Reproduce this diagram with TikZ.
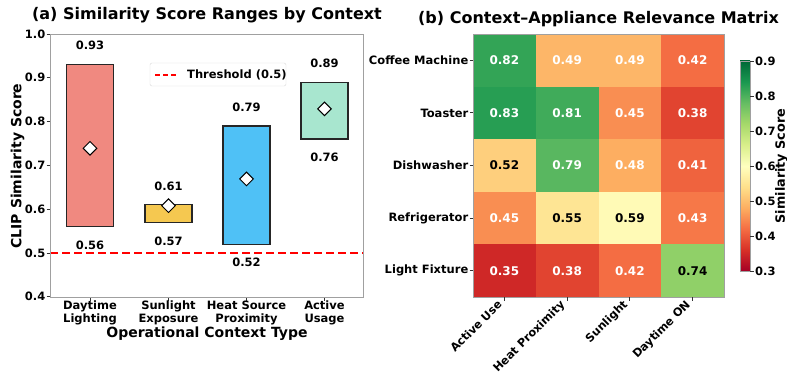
\documentclass[tikz,border=0pt]{standalone}
\usepackage{fontspec}
\setmainfont{DejaVu Sans}
\usetikzlibrary{shapes.geometric}
\definecolor{cday}{RGB}{240,137,128}
\definecolor{csun}{RGB}{245,200,80}
\definecolor{cheat}{RGB}{79,193,246}
\definecolor{cact}{RGB}{168,230,207}
\definecolor{spine}{RGB}{160,160,160}
\definecolor{h82}{RGB}{51,164,86}
\definecolor{h49}{RGB}{253,182,104}
\definecolor{h42}{RGB}{244,109,67}
\definecolor{h83}{RGB}{39,158,83}
\definecolor{h81}{RGB}{64,171,90}
\definecolor{h45}{RGB}{249,142,82}
\definecolor{h38}{RGB}{225,68,48}
\definecolor{h52}{RGB}{254,207,125}
\definecolor{h79}{RGB}{89,183,96}
\definecolor{h48}{RGB}{253,174,97}
\definecolor{h41}{RGB}{239,99,62}
\definecolor{h55}{RGB}{254,229,148}
\definecolor{h59}{RGB}{255,250,182}
\definecolor{h43}{RGB}{246,120,72}
\definecolor{h35}{RGB}{207,40,39}
\definecolor{h74}{RGB}{144,208,104}
\pgfdeclareverticalshading{rdylgn}{100bp}{rgb(0bp)=(0.647,0,0.149); rgb(25bp)=(0.647,0,0.149); rgb(30bp)=(0.843,0.188,0.153); rgb(35bp)=(0.957,0.427,0.263); rgb(40bp)=(0.992,0.682,0.380); rgb(45bp)=(0.996,0.878,0.545); rgb(50bp)=(1,1,0.749); rgb(55bp)=(0.851,0.937,0.545); rgb(60bp)=(0.651,0.851,0.416); rgb(65bp)=(0.4,0.741,0.388); rgb(70bp)=(0.102,0.596,0.314); rgb(75bp)=(0,0.408,0.216); rgb(100bp)=(0,0.408,0.216)}
\begin{document}
\begin{tikzpicture}[x=1pt,y=-1pt,
  ticklbl/.style={font=\fontsize{11.5}{12.5}\selectfont\bfseries, inner sep=0pt},
  rotlbl/.style={font=\fontsize{11.3}{12.5}\selectfont\bfseries, inner sep=0pt, rotate=45, anchor=north east},
  barlbl/.style={font=\fontsize{11.5}{12.5}\selectfont\bfseries, inner sep=0pt},
  cellv/.style={font=\fontsize{12}{14}\selectfont\bfseries, inner sep=0pt},
  axlbl/.style={font=\fontsize{14}{17}\selectfont\bfseries, inner sep=0pt},
  cblbl/.style={font=\fontsize{12.8}{15}\selectfont\bfseries, inner sep=0pt},
  ttl/.style={font=\fontsize{16}{19}\selectfont\bfseries, inner sep=0pt},
  barbox/.style={draw=black!85, line width=1.3pt},
  mk/.style={diamond, draw=black, fill=white, line width=1pt, minimum size=14pt, inner sep=0pt},
  spn/.style={draw=spine, line width=0.9pt},
  tk/.style={draw=black!80, line width=0.8pt}]
\useasboundingbox[fill=white] (0,0) rectangle (787,374);
% ---------- panel (a)
\node[ttl] (ta) at (207,15.5) {(a) Similarity Score Ranges by Context};
\draw[red, line width=1.6pt, dash pattern=on 8pt off 4pt] (50,253) -- (363,253);
\foreach \cx/\lo/\hi/\md/\col [count=\i] in {90/0.56/0.93/0.739/cday, 168.5/0.57/0.61/0.608/csun, 246.5/0.52/0.79/0.669/cheat, 324.5/0.76/0.89/0.829/cact} {
  \pgfmathsetmacro\yt{34+(1-\hi)*438}
  \pgfmathsetmacro\yb{34+(1-\lo)*438}
  \pgfmathsetmacro\ym{34+(1-\md)*438}
  \draw[barbox, fill=\col] (\cx-23.5,\yt) rectangle (\cx+23.5,\yb);
  \node[mk] (m\i) at (\cx,\ym) {};
  \node[barlbl] (hi\i) at (\cx,\yt-19) {\hi};
  \node[barlbl] (lo\i) at (\cx,\yb+18.5) {\lo};
  \draw[tk] (\cx,297) -- (\cx,300.5);
}
\draw[spn] (50,34) rectangle (363,297);
\foreach \v [count=\i] in {1.0,0.9,0.8,0.7,0.6,0.5,0.4} {
  \pgfmathsetmacro\yy{34+(1-\v)*438}
  \draw[tk] (46.5,\yy) -- (50,\yy);
  \node[ticklbl, anchor=east] (yt\i) at (45.5,\yy) {\v};
}
\foreach \cx/\t [count=\i] in {90/{Daytime\\Lighting}, 168.5/{Sunlight\\Exposure}, 246.5/{Heat Source\\Proximity}, 324.5/{Active\\Usage}} {
  \node[ticklbl, align=center, anchor=north] (xt\i) at (\cx,301) {\t};
}
\node[axlbl] (xl) at (207,333.5) {Operational Context Type};
\node[axlbl, rotate=90] (yl) at (17.5,166) {CLIP Similarity Score};
% legend
\draw[draw=black!15, fill=white, rounded corners=2pt] (150,63) rectangle (286,86);
\draw[red, line width=1.6pt, dash pattern=on 5pt off 3pt] (155,75) -- (178,75);
\node[ticklbl, anchor=west] (leg) at (187,75) {Threshold (0.5)};
% ---------- panel (b)
\node[ttl] (tb) at (598.5,19.5) {(b) Context–Appliance Relevance Matrix};
\foreach \r/\c/\v/\tc in {0/0/82/white,0/1/49/white,0/2/49/white,0/3/42/white,
  1/0/83/white,1/1/81/white,1/2/45/white,1/3/38/white,
  2/0/52/black,2/1/79/white,2/2/48/white,2/3/41/white,
  3/0/45/white,3/1/55/black,3/2/59/black,3/3/43/white,
  4/0/35/white,4/1/38/white,4/2/42/white,4/3/74/black} {
  \fill[h\v] (473+\c*62.75,34+\r*52.6) rectangle ++(62.75,52.6);
  \node[cellv, text=\tc] (c\r\c) at (473+\c*62.75+31.375,34+\r*52.6+26.3) {0.\v};
}
\draw[spn] (473,34) rectangle (724,297);
\foreach \t [count=\r from 0] in {Coffee Machine, Toaster, Dishwasher, Refrigerator, Light Fixture} {
  \draw[tk] (469.5,34+\r*52.6+26.3) -- (473,34+\r*52.6+26.3);
  \node[ticklbl, anchor=east] (rl\r) at (468.5,34+\r*52.6+26.3) {\t};
}
\foreach \t [count=\c from 0] in {Active Use, Heat Proximity, Sunlight, Daytime ON} {
  \draw[tk] (473+\c*62.75+31.375,297) -- (473+\c*62.75+31.375,300.5);
  \node[rotlbl] (cl\c) at (473+\c*62.75+23.5,299) {\t};
}
% colorbar
\shade[shading=rdylgn] (740,61) rectangle (750,271);
\draw[draw=spine, line width=0.6pt] (740,61) rectangle (750,271);
\foreach \v [count=\i] in {0.9,0.8,0.7,0.6,0.5,0.4,0.3} {
  \pgfmathsetmacro\yy{271-(\v-0.3)*350}
  \draw[tk] (750,\yy) -- (753.5,\yy);
  \node[ticklbl, anchor=west] (cb\i) at (755,\yy) {\v};
}
\node[cblbl, rotate=90] (cbl) at (781.3,166) {Similarity Score};
\end{tikzpicture}
\end{document}
